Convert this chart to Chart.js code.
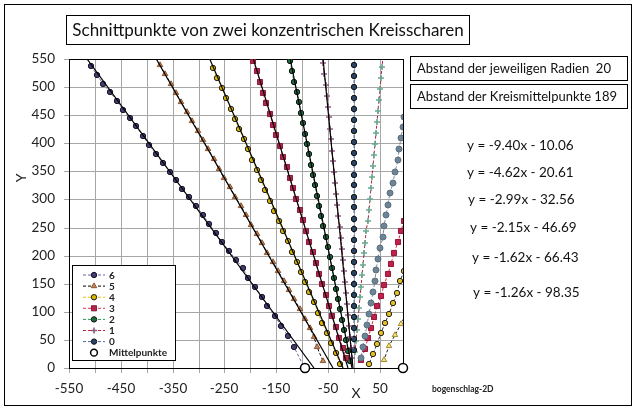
<!DOCTYPE html>
<html>
<head>
<meta charset="utf-8">
<script src="https://cdn.jsdelivr.net/npm/chart.js@4.4.0/dist/chart.umd.min.js"></script>
<style>
html, body { margin: 0; padding: 0; background: #fff; }
canvas { display: block; }
</style>
</head>
<body>
<canvas id="c" width="637" height="412"></canvas>
<script>
// axis ranges and tick labels
var xMin = -550, xMax = 94.5, yMin = 0, yMax = 550;
var xLabels = [-550, -450, -350, -250, -150, -50, 50];
var radiusGap = 20, centerGap = 189;

// Mittelpunkte
var centerX = [-94.5, 94.5];
var centerY = [0, 0];

// left branches 6 .. 0
var x6 = [-508,-496,-484,-470,-458,-446,-433,-420,-407,-395,-382,-369,-356,-344,-331,-318,-305,-292,-280,-267,-254,-241,-228,-215,-204,-192,-178,-167,-153,-140,-128,-115,-97];
var y6 = [538,522,506,491,476,460,445,430,413,397,381,365,349,335,319,304,288,272,257,241,225,209,193,178,161,145,127,110,93,75,57,37,1];
var x5 = [-374,-364,-353,-343,-333,-322,-312,-302,-291,-281,-271,-260,-250,-240,-229,-219,-209,-198,-188,-178,-167,-157,-147,-136,-126,-116,-105,-95,-85,-78,-71,-60];
var y5 = [539,523,506,489,473,456,439,422,405,389,372,355,338,322,305,288,272,255,238,222,205,188,172,155,138,122,105,88,71,55,38,12];
var x4 = [-272,-264,-255,-247,-238,-230,-222,-213,-205,-196,-188,-179,-171,-162,-154,-145,-137,-128,-120,-111,-103,-95,-86,-78,-69,-61,-52,-44,-35,-27];
var y4 = [534,516,498,480,461,443,425,407,389,371,353,334,316,298,280,262,244,226,207,189,171,153,135,117,98,80,62,44,26,8];
var x3 = [-194,-188,-181,-175,-169,-162,-156,-150,-143,-137,-130,-124,-118,-112,-105,-99,-93,-86,-80,-74,-67,-61,-55,-48,-42,-35,-29,-22,-16];
var y3 = [546,528,509,490,471,452,433,414,395,376,357,338,320,301,282,263,244,225,206,187,168,149,130,111,92,73,54,35,17];
var x2 = [-123,-119,-115,-111,-107,-103,-99,-95,-91,-87,-83,-79,-75,-71,-67,-63,-59,-55,-51,-47,-43,-39,-35,-31,-27,-23,-19,-15,-11,-7];
var y2 = [546,528,509,491,473,454,436,417,399,381,362,344,325,307,289,270,252,233,215,197,178,160,141,123,105,86,68,49,31,12];
var x1 = [-59,-57,-55,-53,-51,-49,-46,-44,-42,-40,-38,-36,-34,-32,-30,-28,-26,-24,-22,-20,-17,-15,-13,-11,-9,-7,-5,-3];
var y1 = [543,524,504,485,465,446,426,407,387,368,348,329,309,290,270,251,231,212,192,173,153,134,114,95,75,56,36,17];
var x0 = [-1,-1,-1,-1,-1,-1,-1,-1,-1,-1,-1,-1,-1,-1,-1,-1,-1,-1,-1,-1,-1,-1,-1,-1,-1,-1,-1];
var y0 = [539,519,500,481,461,442,422,403,383,364,344,325,305,286,266,247,227,208,188,169,149,130,110,91,71,52,32];

// right branches
var xr1 = [56,54,52,50,48,46,44,42,40,38,36,34,32,30,28,26,24,22,20,18,16,14,12,10,8,6,4,2];
var yr1 = [555,535,516,496,477,457,438,418,399,379,360,340,321,301,282,262,243,223,204,184,165,145,126,106,87,67,48,28];
var xr2 = [97,94,90,87,84,79,76,69,66,62,58,55,51,47,43,40,36,32,28,25,21,17,13];
var yr2 = [447,429,409,389,370,349,330,312,291,272,252,233,213,194,174,155,135,116,96,77,57,38,18];
var xr3 = [97,91,84,78,72,65,58,52,45,39,33,27,21,14];
var yr3 = [262,243,224,205,186,167,148,129,110,91,72,53,34,15];
var xr4 = [97,89,82,76,68,60,52,44,36,28];
var yr4 = [172,154,134,115,97,80,62,42,25,8];
var xr5 = [100,90,80,68,57];
var yr5 = [97,78,59,39,14];

// linear trendlines of the left branches 1 .. 6
var trendSlope = [-9.40, -4.62, -2.99, -2.15, -1.62, -1.26];
var trendIntercept = [-10.06, -20.61, -32.56, -46.69, -66.43, -98.35];
var trendText = ['y = -9.40x - 10.06', 'y = -4.62x - 20.61', 'y = -2.99x - 32.56',
                 'y = -2.15x - 46.69', 'y = -1.62x - 66.43', 'y = -1.26x - 98.35'];

var FONT = 'Lato, "Open Sans", sans-serif';

function pts(xs, ys) {
  return xs.map(function (x, i) { return { x: x, y: ys[i] }; });
}

function series(xs, ys, fill, edge, line, shape, r, bw) {
  return {
    data: pts(xs, ys),
    showLine: true,
    borderColor: line,
    borderWidth: 1,
    borderDash: [3, 2],
    pointStyle: shape,
    pointRadius: r,
    pointBackgroundColor: fill,
    pointBorderColor: edge,
    pointBorderWidth: bw || 1,
    order: 3
  };
}

var ds6 = series(x6, y6, '#453b6e', '#17152a', '#7b5ea7', 'circle', 2.7);
var ds5 = series(x5, y5, '#c8875a', '#8a5530', '#000000', 'triangle', 3.2);
var ds4 = series(x4, y4, '#d9b400', '#222222', '#e6c400', 'circle', 2.7);
var ds3 = series(x3, y3, '#b3244e', '#8a1a3a', '#e0304f', 'rect', 3.6);
var ds2 = series(x2, y2, '#1f6b40', '#111111', '#1fa050', 'circle', 2.7);
var ds1 = series(x1, y1, '#8a5d80', '#8a5d80', '#c8203c', 'cross', 3, 1.6);
var ds0 = series(x0, y0, '#2a4466', '#111111', '#4a6aa8', 'circle', 2.7);

var datasets = [
  ds6, ds5, ds4, ds3, ds2, ds1, ds0,
  series(xr1, yr1, '#6aa890', '#6aa890', '#b8203a', 'cross', 3, 1.6),
  series(xr2, yr2, '#6d8496', '#5a6e7e', '#7c8c99', 'circle', 3),
  series(xr3, yr3, '#c0204a', '#90183a', '#e02848', 'rect', 3.6),
  series(xr4, yr4, '#e2c020', '#222222', '#333333', 'circle', 2.7),
  series(xr5, yr5, '#f4e480', '#a08a30', '#222222', 'triangle', 3.2)
];

// trendlines from the fitted equations, drawn from y = 0 up past the top
trendSlope.forEach(function (m, i) {
  var b = trendIntercept[i];
  datasets.push({
    data: [{ x: (0 - b) / m, y: 0 }, { x: (570 - b) / m, y: 570 }],
    showLine: true, borderColor: '#000', borderWidth: 1.2,
    pointRadius: 0, order: 2
  });
});

var dsCenter = {
  data: pts(centerX, centerY),
  showLine: false, pointStyle: 'circle', pointRadius: 4.5,
  pointBackgroundColor: '#fff', pointBorderColor: '#000', pointBorderWidth: 1.5,
  order: 0, clip: false
};
datasets.push(dsCenter);

var legendNames = ['6', '5', '4', '3', '2', '1', '0', 'Mittelpunkte'];
var legendSets = [ds6, ds5, ds4, ds3, ds2, ds1, ds0, dsCenter];

var eqPos = [[467, 146], [467, 173], [468, 200], [470, 228], [472, 258], [473, 293]];

function marker(ctx, d, x, y, scale) {
  ctx.fillStyle = d.pointBackgroundColor;
  ctx.strokeStyle = d.pointBorderColor;
  ctx.lineWidth = d.pointBorderWidth;
  ctx.setLineDash([]);
  Chart.helpers.drawPoint(ctx, { pointStyle: d.pointStyle, radius: d.pointRadius * scale, rotation: 0, borderWidth: d.pointBorderWidth }, x, y);
}

var overlay = {
  id: 'overlay',
  beforeDraw: function (chart) {
    var ctx = chart.ctx;
    ctx.save();
    ctx.fillStyle = '#fff';
    ctx.fillRect(0, 0, chart.width, chart.height);
    ctx.strokeStyle = '#000';
    ctx.lineWidth = 1;
    ctx.strokeRect(4.5, 4.5, 627, 401);
    ctx.restore();
  },
  beforeDatasetsDraw: function (chart) {
    var ctx = chart.ctx, a = chart.chartArea;
    ctx.save();
    ctx.strokeStyle = '#000';
    ctx.lineWidth = 1;
    ctx.strokeRect(Math.round(a.left) + 0.5, Math.round(a.top) + 0.5,
      Math.round(a.right - a.left), Math.round(a.bottom - a.top));
    ctx.restore();
  },
  afterDraw: function (chart) {
    var ctx = chart.ctx;
    ctx.save();
    ctx.strokeStyle = '#000';
    ctx.lineWidth = 1;
    ctx.fillStyle = '#111';
    ctx.textBaseline = 'middle';

    // title box
    ctx.strokeRect(66.5, 15.5, 403, 29);
    ctx.font = '17px ' + FONT;
    ctx.textAlign = 'center';
    ctx.fillText('Schnittpunkte von zwei konzentrischen Kreisscharen', 268, 30.5);

    // info boxes
    ctx.textAlign = 'left';
    ctx.font = '13px ' + FONT;
    ctx.strokeRect(410.5, 56.5, 217, 24);
    ctx.fillText('Abstand der jeweiligen Radien  ' + radiusGap, 417, 69);
    ctx.strokeRect(410.5, 84.5, 217, 24);
    ctx.fillText('Abstand der Kreismittelpunkte ' + centerGap, 417, 97);

    // trendline equations
    ctx.font = '13.5px ' + FONT;
    trendText.forEach(function (t, i) {
      ctx.fillText(t, eqPos[i][0], eqPos[i][1]);
    });

    // axis titles
    ctx.font = '14px ' + FONT;
    ctx.fillStyle = '#222';
    ctx.textAlign = 'center';
    ctx.fillText('X', 356, 393);
    ctx.save();
    ctx.translate(21, 178);
    ctx.rotate(-Math.PI / 2);
    ctx.fillText('Y', 0, 0);
    ctx.restore();

    ctx.font = 'bold 8.5px ' + FONT;
    ctx.textAlign = 'left';
    ctx.fillText('bogenschlag-2D', 432, 389);

    // legend
    ctx.fillStyle = '#fff';
    ctx.fillRect(72.5, 265.5, 103, 95);
    ctx.strokeRect(72.5, 265.5, 103, 95);
    ctx.font = 'bold 10px ' + FONT;
    legendNames.forEach(function (name, i) {
      var d = legendSets[i];
      var y = 275 + i * 11.1;
      if (d.showLine) {
        ctx.strokeStyle = d.borderColor;
        ctx.lineWidth = 1;
        ctx.setLineDash([3, 2]);
        ctx.beginPath();
        ctx.moveTo(83, y);
        ctx.lineTo(105, y);
        ctx.stroke();
      }
      marker(ctx, d, 94, y, d.showLine ? 1 : 0.75);
      ctx.fillStyle = '#222';
      ctx.fillText(name, 109, y + 0.5);
    });
    ctx.restore();
  }
};

new Chart(document.getElementById('c'), {
  type: 'scatter',
  data: { datasets: datasets },
  options: {
    responsive: false,
    animation: false,
    layout: { padding: { left: 0, right: 234, top: 59, bottom: 0 } },
    plugins: { legend: { display: false }, tooltip: { enabled: false } },
    scales: {
      x: {
        type: 'linear', min: xMin, max: xMax, alignToPixels: true,
        afterFit: function (s) { s.height = 44; },
        border: { display: false },
        grid: { color: '#a6a6a6', tickLength: 5 },
        ticks: {
          stepSize: 50, autoSkip: false, maxRotation: 0, includeBounds: false,
          padding: 8, color: '#222', font: { family: FONT, size: 13.5 },
          callback: function (v) { return xLabels.indexOf(v) >= 0 ? String(v) : ''; }
        }
      },
      y: {
        type: 'linear', min: yMin, max: yMax, alignToPixels: true,
        afterFit: function (s) { s.width = 69; },
        border: { display: false },
        grid: { color: '#a6a6a6', tickLength: 5 },
        ticks: { stepSize: 50, padding: 9, color: '#222', font: { family: FONT, size: 13.5 } }
      }
    }
  },
  plugins: [overlay]
});
</script>
</body>
</html>
